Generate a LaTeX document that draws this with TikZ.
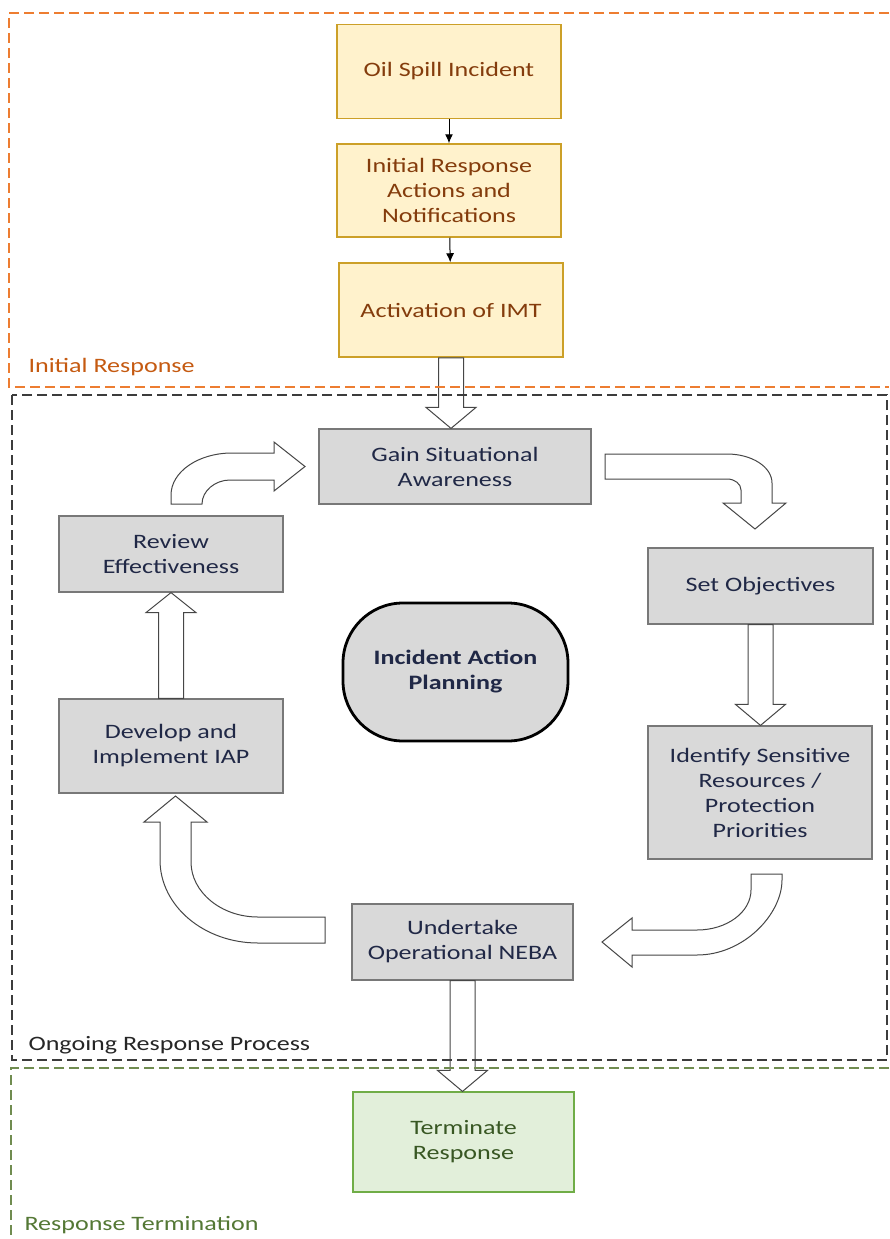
\documentclass[tikz,border=0pt]{standalone}
\usepackage{fontspec}
\setmainfont{Carlito}[FakeStretch=1.27]
\usetikzlibrary{arrows.meta,calc}
\definecolor{yellowfill}{RGB}{255,242,204}
\definecolor{yellowline}{RGB}{204,160,40}
\definecolor{yellowtext}{RGB}{132,60,12}
\definecolor{grayfill}{RGB}{217,217,217}
\definecolor{grayline}{RGB}{120,120,120}
\definecolor{graytext}{RGB}{32,40,70}
\definecolor{greenfill}{RGB}{226,239,218}
\definecolor{greenline}{RGB}{112,173,71}
\definecolor{greentext}{RGB}{56,87,35}
\definecolor{orangeline}{RGB}{237,125,49}
\definecolor{orangetext}{RGB}{197,90,17}
\definecolor{darkline}{RGB}{60,60,60}
\definecolor{oliveline}{RGB}{112,140,80}
\definecolor{olivetext}{RGB}{84,120,53}
\definecolor{arrowline}{RGB}{70,70,70}
\tikzset{
  boxtext/.style={align=center,inner sep=2pt,font=\fontsize{20.5}{25}\selectfont},
  yellowbox/.style={boxtext,draw=yellowline,fill=yellowfill,line width=1.5pt,text=yellowtext,minimum width=224pt,minimum height=94pt},
  graybox/.style={boxtext,draw=grayline,fill=grayfill,line width=1.2pt,text=graytext,minimum width=224pt,minimum height=76pt},
  greenbox/.style={boxtext,draw=greenline,fill=greenfill,line width=1.2pt,text=greentext,minimum width=221pt,minimum height=100pt},
  hubbox/.style={boxtext,draw=black,fill=grayfill,line width=2.8pt,text=graytext,font=\bfseries\fontsize{20.5}{25}\selectfont,minimum width=225pt,minimum height=138pt,rounded corners=60pt},
  thinarrow/.style={-{Latex[length=9pt,width=8pt]},line width=1pt,black},
  blockarrow/.style={draw=arrowline,fill=white,line width=1pt,line join=miter},
  frametext/.style={anchor=base west,font=\fontsize{20.5}{25}\selectfont},
  orangeframe/.style={draw=orangeline,line width=1.5pt,dash pattern=on 10pt off 5pt},
  blackframe/.style={draw=darkline,line width=1.5pt,dash pattern=on 10pt off 5pt},
  oliveframe/.style={draw=oliveline,line width=1.5pt,dash pattern=on 10pt off 5pt}
}
\newcommand\blockdown[2]{%
  \path[blockarrow] let \p1=(#1.south), \p2=(#2.north) in
    (\x1-12.5pt,\y1) -- (\x1-12.5pt,\y2+21pt) -- (\x1-25pt,\y2+21pt) -- (\x1,\y2)
    -- (\x1+25pt,\y2+21pt) -- (\x1+12.5pt,\y2+21pt) -- (\x1+12.5pt,\y1) -- cycle;}
\newcommand\blockup[2]{%
  \path[blockarrow] let \p1=(#1.north), \p2=(#2.south) in
    (\x1-12.5pt,\y1) -- (\x1-12.5pt,\y2-20pt) -- (\x1-25pt,\y2-20pt) -- (\x1,\y2)
    -- (\x1+25pt,\y2-20pt) -- (\x1+12.5pt,\y2-20pt) -- (\x1+12.5pt,\y1) -- cycle;}

\begin{document}
\begin{tikzpicture}[x=1pt,y=-1pt]
  \useasboundingbox (0,0) rectangle (889,1239);
  % initial response
  \node[yellowbox] (oil) at (449,71.5) {Oil Spill Incident};
  \node[yellowbox,minimum height=93pt] (initial) at (449,190.5) {Initial Response\\Actions and\\Notifications};
  \node[yellowbox] (imt) at (451,310) {Activation of IMT};
  \draw[thinarrow] (oil) -- (initial);
  \draw[thinarrow] (initial) -- (imt);
  % ongoing response cycle
  \node[graybox,minimum width=272pt,minimum height=75pt] (gain) at (455,466.5) {Gain Situational\\Awareness};
  \node[graybox,minimum width=225pt] (objectives) at (760.5,586) {Set Objectives};
  \node[graybox,minimum height=133pt] (identify) at (760,792.5) {Identify Sensitive\\Resources /\\Protection\\Priorities};
  \node[graybox,minimum width=221pt] (neba) at (462.5,942) {Undertake\\Operational NEBA};
  \node[graybox,minimum height=94pt] (develop) at (171,746) {Develop and\\Implement IAP};
  \node[graybox] (review) at (171,554) {Review\\Effectiveness};
  \node[hubbox] (iap) at (455.5,672) {Incident Action\\Planning};
  \node[greenbox] (terminate) at (463.5,1142) {Terminate\\Response};
  \blockdown{imt}{gain}
  \blockdown{objectives}{identify}
  \blockup{develop}{review}
  \blockdown{neba}{terminate}
  % curved block arrows
  \path[blockarrow] (171,504) -- (171,495) .. controls (171,472) and (198,453) .. (232,453)
    -- (274,453) -- (274,442) -- (305,466.5) -- (274,491) -- (274,480) -- (230,480)
    .. controls (215,480) and (202,491) .. (202,504) -- cycle;
  \path[blockarrow] (605,454) -- (727,454) .. controls (752,454) and (772,467) .. (772,483)
    -- (772,503) -- (786,503) -- (755,529) -- (723,503) -- (741,503) -- (741,490)
    .. controls (741,484) and (735,479) .. (727,479) -- (605,479) -- cycle;
  \path[blockarrow] (751,874) -- (751,890) .. controls (751,912) and (727,930) .. (697,930)
    -- (632,930) -- (632,918) -- (602,942) -- (632,967) -- (632,955) -- (697,955)
    .. controls (744,955) and (782,914) .. (782,880) -- (782,874) -- cycle;
  \path[blockarrow] (325,917) -- (258,917) .. controls (221,917) and (191,892) .. (191,862)
    -- (191,822) -- (207,822) -- (175.5,796) -- (144,822) -- (160,822) -- (160,860)
    .. controls (160,906) and (204,943) .. (258,943) -- (325,943) -- cycle;
  % frames
  \draw[orangeframe] (889,13) -- (9,13) -- (9,387) -- (889,387);
  \draw[blackframe] (12,395) rectangle (887,1060);
  \draw[oliveframe] (889,1068) -- (11,1068) -- (11,1239);
  \node[frametext,text=orangetext] (initlabel) at (25,372) {Initial Response};
  \node[frametext,text=black!85] (ongoinglabel) at (25,1050) {Ongoing Response Process};
  \node[frametext,text=olivetext] (termlabel) at (21,1230) {Response Termination};
\end{tikzpicture}
\end{document}
